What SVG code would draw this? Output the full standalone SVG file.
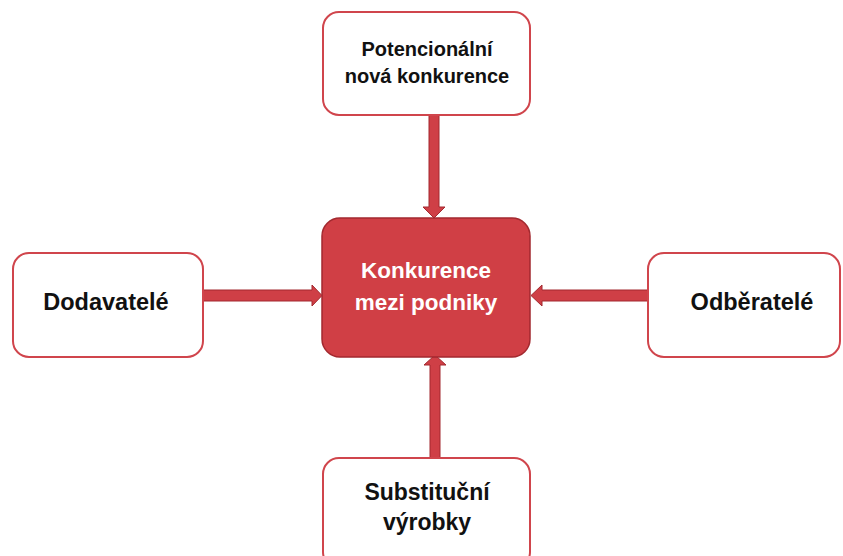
<svg xmlns="http://www.w3.org/2000/svg" width="843" height="556" viewBox="0 0 843 556">
<style>
.box{fill:#fff;stroke:#d0454c;stroke-width:2}
.core{fill:#d03f45;stroke:#a3292f;stroke-width:1.5}
.arr{fill:#cf3f46;stroke:#a3292f;stroke-width:1}
text{font-family:"Liberation Sans",Arial,sans-serif;font-weight:bold;text-anchor:middle}
.t{fill:#111}
.w{fill:#fff}
</style>
<rect width="843" height="556" fill="#fff"/>
<g id="connectors">
<path class="arr" d="M429,115 H439 V207 H445 L434,218 L423,207 H429 Z"/>
<path class="arr" d="M430,458 H440 V365 H446 L435,355 L424,365 H430 Z"/>
<path class="arr" d="M203,290 H312 V285 L322,295.5 L312,306 V301 H203 Z"/>
<path class="arr" d="M648,290 H542 V285 L531,295.5 L542,306 V301 H648 Z"/>
</g>
<g id="potencialni">
<rect class="box" x="323" y="12" width="207" height="103" rx="16"/>
<text class="t" x="427" y="56" font-size="20">Potencionální</text>
<text class="t" x="427" y="83" font-size="20">nová konkurence</text>
</g>
<g id="konkurence">
<rect class="core" x="322" y="218" width="208" height="139" rx="18"/>
<text class="w" x="426" y="278" font-size="22.5">Konkurence</text>
<text class="w" x="426" y="310" font-size="22.5">mezi podniky</text>
</g>
<g id="dodavatele">
<rect class="box" x="13" y="253" width="190" height="104" rx="16"/>
<text class="t" x="106" y="310" font-size="23.5">Dodavatelé</text>
</g>
<g id="odberatele">
<rect class="box" x="648" y="253" width="192" height="104" rx="16"/>
<text class="t" x="752" y="310" font-size="23.5">Odběratelé</text>
</g>
<g id="substitucni">
<rect class="box" x="323" y="458" width="207" height="110" rx="16"/>
<text class="t" x="427" y="500" font-size="23">Substituční</text>
<text class="t" x="427" y="530" font-size="23">výrobky</text>
</g>
</svg>
